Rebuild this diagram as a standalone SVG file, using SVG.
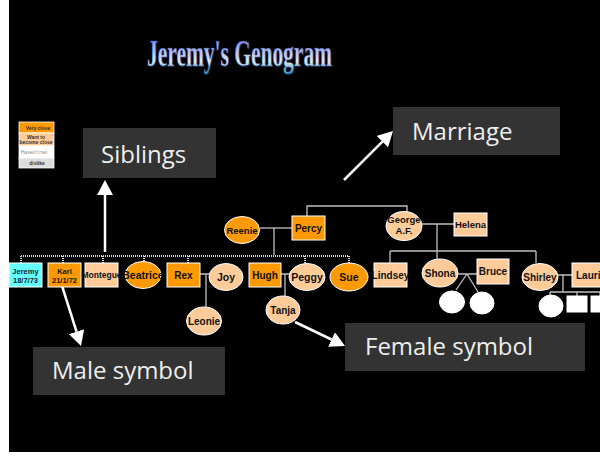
<svg xmlns="http://www.w3.org/2000/svg" width="600" height="460" viewBox="0 0 600 460">
<defs>
<linearGradient id="tg" x1="0" y1="0" x2="0" y2="1">
<stop offset="0" stop-color="#5d6ee8"/>
<stop offset="0.45" stop-color="#aebdf2"/>
<stop offset="0.7" stop-color="#dfe8f6"/>
<stop offset="1" stop-color="#2a9fb0"/>
</linearGradient>
<marker id="ah" viewBox="0 -8 15 16" markerWidth="15" markerHeight="16" refX="0" refY="0" orient="auto" markerUnits="userSpaceOnUse">
<path d="M0,-8 L15,0 L0,8 z" fill="#fff"/>
</marker>
<style>
.or{fill:#ff9900;stroke:#fff;stroke-width:1}
.pe{fill:#ffcc99;stroke:#fff;stroke-width:1}
.cy{fill:#66ffff;stroke:#fff;stroke-width:1}
.wh{fill:#fff;stroke:#fff;stroke-width:1}
.t{font-family:"Liberation Sans",Arial,sans-serif;font-weight:bold;font-size:10px;fill:#111;text-anchor:middle}
.ts{font-size:7.5px}
.lg{font-family:"Liberation Sans",Arial,sans-serif;font-weight:bold;font-size:5px;text-anchor:middle;fill:#333}
.ln{stroke:#c0c0c0;stroke-width:1.3;fill:none}
.dt{stroke:#d8d8d8;stroke-width:2;stroke-dasharray:1 1;fill:none}
.lb{fill:#333}
.lt{font-family:"Open Sans","DejaVu Sans",sans-serif;font-size:24px;fill:#eee}
.ar{stroke:#fff;stroke-width:2.5;fill:none;marker-end:url(#ah)}
.ti{font-family:"Liberation Serif",serif;font-size:38px;font-weight:bold}
</style>
</defs>
<rect x="0" y="0" width="600" height="460" fill="#fff"/>
<rect x="9" y="0" width="591" height="452" fill="#000"/>

<g id="title">
<text class="ti" x="148" y="67" textLength="185" lengthAdjust="spacingAndGlyphs" fill="#1c2450">Jeremy's Genogram</text>
<text class="ti" x="147" y="66" textLength="185" lengthAdjust="spacingAndGlyphs" fill="url(#tg)" stroke="#2a3a80" stroke-width="0.4">Jeremy's Genogram</text>
</g>

<g id="legend">
<rect x="19" y="122" width="35" height="11" fill="#ff9900" stroke="#fff" stroke-width="0.8"/>
<text class="lg" x="38" y="129.5">Very close</text>
<rect x="19" y="133" width="35" height="13" fill="#ffcc99" stroke="#fff" stroke-width="0.8"/>
<text class="lg" x="36" y="138.5">Want to</text>
<text class="lg" x="36" y="144">become close</text>
<rect x="19" y="146" width="35" height="12" fill="#fff" stroke="#fff" stroke-width="0.8"/>
<text class="lg" x="34" y="153.5" style="fill:#888;font-weight:normal">Haven't met</text>
<rect x="19" y="158" width="35" height="10" fill="#ddd" stroke="#fff" stroke-width="0.8"/>
<text class="lg" x="37" y="165">dislike</text>
</g>

<g id="connectors">
<path class="ln" d="M260,228 H292"/>
<path class="ln" d="M274,228 V255"/>
<path class="dt" d="M21,256 H349"/>
<path class="dt" d="M21,256 V263 M63,256 V263 M103,256 V263 M144,256 V262 M188,256 V263 M305,256 V264 M349,256 V263"/>
<path class="ln" d="M307,216 V206 H407 V212"/>
<path class="ln" d="M200,274 H209 M206,274 V307"/>
<path class="ln" d="M281,274 H290 M285,274 V296"/>
<path class="ln" d="M422,224 H454 M437,224 V251"/>
<path class="ln" d="M390,251 H536 M390,251 V263 M437,251 V259 M536,251 V263"/>
<path class="ln" d="M458,274 H477 M467,274 L456,290 M467,274 L478,292"/>
<path class="ln" d="M558,275 H572 M563,275 V292"/>
<path class="ln" d="M550,292 H600 M550,292 V296 M577,292 V296 M600,292 V296"/>
</g>

<g id="arrows">
<path class="ar" d="M105,252 V195"/>
<path class="ar" d="M344,180 L382.4,141.6"/>
<path class="ar" d="M57,270 L76.5,331.7"/>
<path class="ar" d="M295,322 L331.5,339.5"/>
</g>

<g id="reenie"><ellipse class="or" cx="242" cy="230" rx="17.5" ry="13.5"/><text class="t" x="242" y="233.5" style="font-size:9.5px">Reenie</text></g>
<g id="percy"><rect class="or" x="292" y="216" width="33" height="24"/><text class="t" x="308.5" y="231.5">Percy</text></g>
<g id="george"><ellipse class="pe" cx="404" cy="226" rx="18" ry="14.5"/><text class="t" x="404" y="223" style="font-size:9.5px">George</text><text class="t" x="404" y="233.5" style="font-size:9.5px">A.F.</text></g>
<g id="helena"><rect class="pe" x="454" y="213" width="33" height="23"/><text class="t" x="470.5" y="228" style="font-size:9.5px">Helena</text></g>

<g id="jeremy"><rect class="cy" x="9" y="263" width="33" height="24"/><text class="t ts" x="25.5" y="273.5" style="fill:#123">Jeremy</text><text class="t ts" x="25.5" y="283" style="fill:#123">18/7/73</text></g>
<g id="karl"><rect class="or" x="48" y="263" width="33" height="24"/><text class="t ts" x="64.5" y="273.5">Karl</text><text class="t ts" x="64.5" y="283">21/1/72</text></g>
<g id="montegue"><rect class="pe" x="85" y="263" width="33" height="24"/><text class="t" x="101.5" y="277.5" style="font-size:8.5px">Montegue</text></g>
<g id="beatrice"><ellipse class="or" cx="143" cy="275" rx="18" ry="13.5"/><text class="t" x="143" y="278.5" style="font-size:10.5px">Beatrice</text></g>
<g id="rex"><rect class="or" x="167" y="263" width="33" height="24"/><text class="t" x="183.5" y="278.5">Rex</text></g>
<g id="joy"><ellipse class="pe" cx="226" cy="277" rx="17" ry="13.5"/><text class="t" x="226" y="281" style="font-size:10.5px">Joy</text></g>
<g id="leonie"><ellipse class="pe" cx="204" cy="321" rx="17.5" ry="14"/><text class="t" x="204" y="325">Leonie</text></g>
<g id="hugh"><rect class="or" x="249" y="263" width="32" height="24"/><text class="t" x="265" y="278.5">Hugh</text></g>
<g id="peggy"><ellipse class="pe" cx="307" cy="277" rx="18" ry="13.5"/><text class="t" x="307" y="281" style="font-size:10.5px">Peggy</text></g>
<g id="tanja"><ellipse class="pe" cx="283" cy="310" rx="17" ry="14"/><text class="t" x="283" y="313.5">Tanja</text></g>
<g id="sue"><ellipse class="or" cx="349" cy="277" rx="19" ry="14"/><text class="t" x="349" y="281" style="font-size:10.5px">Sue</text></g>

<g id="lindsey"><rect class="pe" x="374" y="263" width="33" height="24"/><text class="t" x="390.5" y="278.5">Lindsey</text></g>
<g id="shona"><ellipse class="pe" cx="440" cy="273" rx="18" ry="14"/><text class="t" x="440" y="276.5">Shona</text></g>
<g id="bruce"><rect class="pe" x="477" y="259" width="32" height="25"/><text class="t" x="493" y="275">Bruce</text></g>
<g id="child1"><ellipse class="wh" cx="452" cy="302" rx="12.5" ry="11"/></g>
<g id="child2"><ellipse class="wh" cx="482" cy="303" rx="12" ry="11"/></g>
<g id="shirley"><ellipse class="pe" cx="540" cy="277" rx="18" ry="13.5"/><text class="t" x="540" y="281">Shirley</text></g>
<g id="laurie"><rect class="pe" x="572" y="263" width="34" height="24"/><text class="t" x="576" y="278.5" style="text-anchor:start;font-size:10px">Laurie</text></g>
<g id="child3"><ellipse class="wh" cx="551" cy="306" rx="12" ry="11"/></g>
<g id="child4"><rect class="wh" x="567" y="296" width="20" height="16"/></g>
<g id="child5"><rect class="wh" x="591" y="296" width="20" height="16"/></g>

<g id="siblings-label"><rect class="lb" x="83" y="128" width="133" height="50"/><text class="lt" x="101" y="163">Siblings</text></g>
<g id="marriage-label"><rect class="lb" x="393" y="107" width="167" height="48"/><text class="lt" x="412" y="140">Marriage</text></g>
<g id="male-label"><rect class="lb" x="33" y="347" width="192" height="48"/><text class="lt" x="52" y="379">Male symbol</text></g>
<g id="female-label"><rect class="lb" x="345" y="323" width="240" height="48"/><text class="lt" x="365" y="355">Female symbol</text></g>
</svg>
